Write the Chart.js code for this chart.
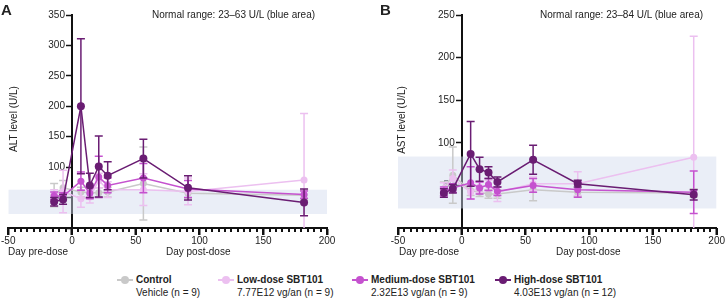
<!DOCTYPE html>
<html>
<head>
<meta charset="utf-8">
<script src="https://cdn.jsdelivr.net/npm/chart.js@4.4.1/dist/chart.umd.min.js"></script>
<style>
  body { margin: 0; background: #fff; font-family: 'Liberation Sans', Arial, sans-serif; color: #222; }
  #wrap { position: relative; width: 726px; height: 300px; overflow: hidden; }
  canvas { position: absolute; top: 0; }
  .t { position: absolute; font-size: 10px; line-height: 12px; white-space: nowrap; }
  .panel { position: absolute; font-size: 15px; font-weight: bold; top: 1px; }
  .ytitle { position: absolute; font-size: 10px; white-space: nowrap; transform: translate(-50%, -50%) rotate(-90deg); }
  .lg { position: absolute; top: 273px; padding-left: 19px; font-size: 10px; line-height: 13px; white-space: nowrap; }
  .lg .ln { position: absolute; left: 0; top: 6px; width: 16px; height: 2px; }
  .lg .dot { position: absolute; left: 4px; top: 3px; width: 8px; height: 8px; border-radius: 50%; }
</style>
</head>
<body>
<div id="wrap">
  <canvas id="altChart" width="363" height="250" style="left:0"></canvas>
  <canvas id="astChart" width="363" height="250" style="left:363px"></canvas>

  <div class="panel" style="left:1px">A</div>
  <div class="panel" style="left:380px">B</div>
  <div class="t" style="left:152px;top:9px">Normal range: 23–63 U/L (blue area)</div>
  <div class="t" style="left:540px;top:9px">Normal range: 23–84 U/L (blue area)</div>
  <div class="ytitle" style="left:13px;top:119px">ALT level (U/L)</div>
  <div class="ytitle" style="left:401px;top:120px">AST level (U/L)</div>
  <div class="t" style="left:8px;top:246px">Day pre-dose</div>
  <div class="t" style="left:166px;top:246px">Day post-dose</div>
  <div class="t" style="left:399px;top:246px">Day pre-dose</div>
  <div class="t" style="left:556px;top:246px">Day post-dose</div>

  <div class="lg" style="left:117px"><span class="ln" style="background:#c9c9c9"></span><span class="dot" style="background:#c9c9c9"></span><b>Control</b><br>Vehicle (n = 9)</div>
  <div class="lg" style="left:218px"><span class="ln" style="background:#ecc0f0"></span><span class="dot" style="background:#ecc0f0"></span><b>Low-dose SBT101</b><br>7.77E12 vg/an (n = 9)</div>
  <div class="lg" style="left:352px"><span class="ln" style="background:#c552cf"></span><span class="dot" style="background:#c552cf"></span><b>Medium-dose SBT101</b><br>2.32E13 vg/an (n = 9)</div>
  <div class="lg" style="left:495px"><span class="ln" style="background:#6a1d73"></span><span class="dot" style="background:#6a1d73"></span><b>High-dose SBT101</b><br>4.03E13 vg/an (n = 12)</div>
</div>

<script>
// sampling days (relative to dosing)
const days = [-14, -7, 7, 14, 21, 28, 56, 91, 182];

// ALT (U/L), mean and SD
const altControl = [54, 66, 59, 58, 58, 59, 73, 57, 54];
const altControlErr = [19, 12, 8, 8, 8, 8, 60, 8, 8];
const altLow = [55, 60, 48, 51, 78, 63, 63, 60, 79];
const altLowErr = [8, 35, 14, 10, 12, 13, 26, 22, 109];
const altMedium = [53, 52, 77, 57, 84, 70, 82, 64, 55];
const altMediumErr = [6, 6, 15, 9, 34, 12, 24, 14, 6];
const altHigh = [43, 47, 200, 70, 101, 86, 114, 66, 42];
const altHighErr = [7, 8, 111, 20, 50, 23, 32, 20, 22];
const altNormal = [23, 63];

// AST (U/L), mean and SD
const astControl = [46, 62, 44, 42, 40, 40, 45, 42, 41];
const astControlErr = [8, 33, 6, 5, 5, 5, 13, 5, 5];
const astLow = [45, 58, 42, 48, 50, 42, 52, 52, 83];
const astLowErr = [8, 10, 8, 6, 6, 11, 8, 14, 142];
const astMedium = [43, 47, 53, 47, 51, 43, 50, 45, 42];
const astMediumErr = [5, 5, 19, 7, 7, 5, 8, 9, 25];
const astHigh = [41, 46, 87, 69, 65, 54, 80, 52, 39];
const astHighErr = [5, 5, 38, 14, 7, 6, 17, 4, 6];
const astNormal = [23, 84];

const colors = { control: '#c9c9c9', low: '#ecc0f0', medium: '#c552cf', high: '#6a1d73' };
const font = { family: "'Liberation Sans', Arial, sans-serif", size: 10 };

// vertical SD bars with caps, drawn under each series' points
const errorBars = {
  id: 'errorBars',
  beforeDatasetDraw(chart, args) {
    const ds = chart.data.datasets[args.index];
    if (!ds.errors) return;
    const { ctx, chartArea } = chart;
    const x = chart.scales.x, y = chart.scales.y;
    ctx.save();
    ctx.beginPath();
    ctx.rect(chartArea.left, chartArea.top, chartArea.width, chartArea.height);
    ctx.clip();
    ctx.strokeStyle = ds.borderColor;
    ctx.lineWidth = 1.5;
    ds.data.forEach((p, i) => {
      const px = x.getPixelForValue(p.x);
      const top = y.getPixelForValue(p.y + ds.errors[i]);
      const bot = y.getPixelForValue(p.y - ds.errors[i]);
      ctx.beginPath();
      ctx.moveTo(px, top); ctx.lineTo(px, bot);
      ctx.moveTo(px - 4, top); ctx.lineTo(px + 4, top);
      ctx.moveTo(px - 4, bot); ctx.lineTo(px + 4, bot);
      ctx.stroke();
    });
    ctx.restore();
  }
};

// ruler ticks under the x axis: long every 50 days, short every 5
const axisTicks = {
  id: 'axisTicks',
  afterDraw(chart) {
    const ctx = chart.ctx;
    const xs = chart.scales.x;
    const base = chart.scales.y.getPixelForValue(0);
    ctx.save();
    ctx.fillStyle = '#111';
    for (let v = -50; v <= 200; v += 5) {
      const px = Math.round(xs.getPixelForValue(v));
      ctx.fillRect(px - 1, base, 2, v % 50 === 0 ? 7 : 4);
    }
    ctx.restore();
  }
};

function series(label, values, errs, color, r) {
  return {
    label: label,
    data: days.map((d, i) => ({ x: d, y: values[i] })),
    errors: errs,
    borderColor: color,
    backgroundColor: color,
    borderWidth: 1.5,
    pointRadius: r,
    pointBorderWidth: 0,
    fill: false,
    tension: 0
  };
}

function makeChart(id, ymax, normal, s, pad) {
  return new Chart(document.getElementById(id), {
    type: 'line',
    data: {
      datasets: [
        series('High-dose SBT101', s[3], s[7], colors.high, 4),
        series('Medium-dose SBT101', s[2], s[6], colors.medium, 3.5),
        series('Low-dose SBT101', s[1], s[5], colors.low, 3.5),
        series('Control', s[0], s[4], colors.control, 3.5),
        {
          label: 'Normal range',
          data: [{ x: -50, y: normal[1] }, { x: 200, y: normal[1] }],
          borderWidth: 0,
          pointRadius: 0,
          backgroundColor: 'rgba(208,218,238,0.45)',
          fill: { value: normal[0] }
        }
      ]
    },
    options: {
      responsive: false,
      animation: false,
      layout: { padding: pad },
      plugins: { legend: { display: false }, tooltip: { enabled: false } },
      scales: {
        x: {
          type: 'linear', min: -50, max: 200, position: { y: 0 },
          ticks: { stepSize: 50, font: font, color: '#222', padding: 1 },
          grid: { drawOnChartArea: false, tickLength: 6, tickColor: '#111', tickWidth: 2 },
          border: { color: '#111', width: 2 }
        },
        y: {
          type: 'linear', min: 0, max: ymax, position: { x: 0 },
          // labels sit right-aligned on the axis line, so pad them off the tick marks
          ticks: { stepSize: 50, font: font, color: '#222', callback: v => v === 0 ? '' : v + '\u2002\u2009' },
          grid: { drawOnChartArea: false, tickLength: 5, tickColor: '#111', tickWidth: 1.5 },
          border: { color: '#111', width: 2 }
        }
      }
    },
    plugins: [errorBars, axisTicks]
  });
}

makeChart('altChart', 350, altNormal,
  [altControl, altLow, altMedium, altHigh, altControlErr, altLowErr, altMediumErr, altHighErr],
  { left: 7, right: 36, top: 15, bottom: 22 });
makeChart('astChart', 250, astNormal,
  [astControl, astLow, astMedium, astHigh, astControlErr, astLowErr, astMediumErr, astHighErr],
  { left: 35, right: 9, top: 15, bottom: 22 });
</script>
</body>
</html>
